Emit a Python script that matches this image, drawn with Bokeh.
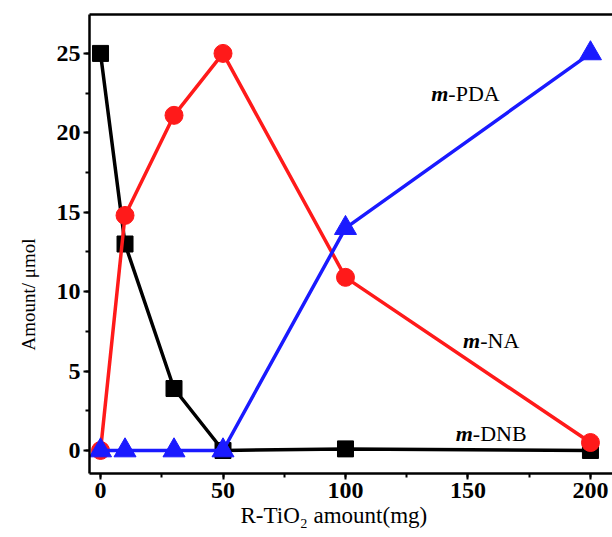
from bokeh.plotting import figure
from bokeh.models import Range1d, SingleIntervalTicker, LinearAxis, Title
from bokeh.core.properties import value
from bokeh.embed import file_html
from bokeh.resources import INLINE

# Data
x = [0, 10, 30, 50, 100, 200]
m_dnb = [25, 13, 3.9, 0, 0.1, 0]
m_na = [0, 14.8, 21.1, 25, 10.9, 0.5]
m_pda = [0, 0, 0, 0, 14, 25]

labels_prefix = ["m", "m", "m"]
labels_suffix = ["-PDA", "-NA", "-DNB"]
label_x = [142, 155, 152]
label_y = [22.5, 6.9, 1.1]

x_title = "R-TiO₂ amount(mg)"
y_title = "Amount/ μmol"

FONT = "Liberation Serif"

p = figure(width=612, height=537, output_backend="svg", toolbar_location=None,
           x_range=Range1d(-4.5, 209), y_range=Range1d(-1.45, 27.45),
           min_border_left=89, min_border_right=0, min_border_top=14, min_border_bottom=64)
p.outline_line_color = None
p.grid.grid_line_color = None
p.background_fill_color = "white"

# black
p.line(x, m_dnb, line_color="black", line_width=3.5)
p.scatter(x, m_dnb, marker="square", size=16, fill_color="black", line_color="black")
# red
p.line(x, m_na, line_color="#ff1a1a", line_width=3.5)
p.scatter(x, m_na, marker="circle", size=18, fill_color="#ff1a1a", line_color="#ff1a1a")
# blue
p.line(x, m_pda, line_color="#1a1aff", line_width=3.5)
p.scatter(x, m_pda, marker="triangle", size=22, fill_color="#1a1aff", line_color="#1a1aff")

# labels
p.text(label_x, label_y, text=labels_prefix, text_font=value(FONT), text_font_style="bold italic",
       text_font_size="22px", text_align="right", text_baseline="middle", text_color="black")
p.text(label_x, label_y, text=labels_suffix, text_font=value(FONT), text_font_style="normal",
       text_font_size="22px", text_align="left", text_baseline="middle", text_color="black")

for ax in [p.xaxis[0], p.yaxis[0]]:
    ax.axis_line_width = 2.5
    ax.axis_line_color = "black"
    ax.major_tick_line_width = 2
    ax.minor_tick_line_width = 2
    ax.major_tick_out = 6
    ax.major_tick_in = 0
    ax.minor_tick_out = 4
    ax.minor_tick_in = 0
    ax.major_label_text_font = FONT
    ax.major_label_text_font_style = "bold"
    ax.major_label_text_font_size = "24px"
    ax.major_label_text_color = "black"

p.xaxis[0].ticker = SingleIntervalTicker(interval=50, num_minor_ticks=2)
p.yaxis[0].ticker = SingleIntervalTicker(interval=5, num_minor_ticks=2)
p.xaxis[0].major_label_standoff = 3
p.yaxis[0].major_label_standoff = 3

# axis titles as side titles (allow off-centre placement like the reference)
p.add_layout(Title(text=x_title, align="left", offset=151, standoff=0,
                   text_font=FONT, text_font_size="23px", text_font_style="normal",
                   text_color="black"), "below")
p.add_layout(Title(text=y_title, align="left", offset=123, standoff=30,
                   text_font=FONT, text_font_size="19px", text_font_style="normal",
                   text_color="black"), "left")

top = LinearAxis(ticker=SingleIntervalTicker(interval=50), major_tick_line_color=None,
                 minor_tick_line_color=None, major_label_text_font_size="0px",
                 axis_line_width=2.5, axis_line_color="black")
p.add_layout(top, "above")

open("out.html", "w").write(file_html(p, INLINE))
